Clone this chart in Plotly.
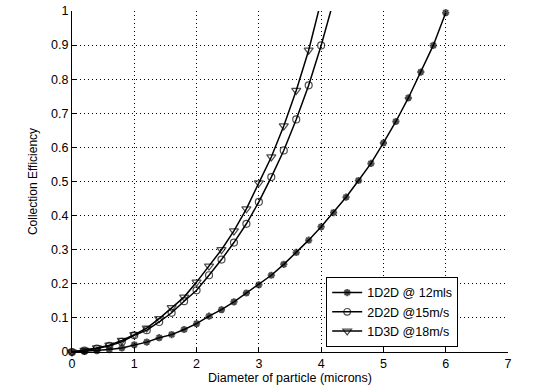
import plotly.graph_objects as go

x_12 = [round(0.2 * i, 1) for i in range(31)]
y_12 = [0.0, 0.002, 0.004, 0.007, 0.012, 0.021, 0.029, 0.042, 0.051, 0.066,
        0.083, 0.105, 0.124, 0.147, 0.173, 0.197, 0.225, 0.257, 0.292, 0.328,
        0.367, 0.409, 0.454, 0.503, 0.553, 0.613, 0.676, 0.745, 0.821, 0.899, 0.995]

x_15 = [round(0.2 * i, 1) for i in range(22)]
y_15 = [0.0, 0.004, 0.010, 0.018, 0.030, 0.049, 0.064, 0.088, 0.115, 0.149,
        0.181, 0.225, 0.271, 0.321, 0.376, 0.440, 0.513, 0.591, 0.682, 0.782,
        0.899, 1.03]

x_18 = [round(0.2 * i, 1) for i in range(21)]
y_18 = [0.0, 0.005, 0.012, 0.020, 0.034, 0.051, 0.070, 0.098, 0.130, 0.161,
        0.205, 0.252, 0.300, 0.355, 0.420, 0.496, 0.572, 0.663, 0.767, 0.885, 1.03]

names = ["1D2D @ 12mls", "2D2D @15m/s", "1D3D @18m/s"]
x_ticks = [0, 1, 2, 3, 4, 5, 6, 7]
y_ticks = [0, 0.1, 0.2, 0.3, 0.4, 0.5, 0.6, 0.7, 0.8, 0.9, 1]
y_tick_text = ["0", "0.1", "0.2", "0.3", "0.4", "0.5", "0.6", "0.7", "0.8", "0.9", "1"]

FONT = "Liberation Sans, Arial, sans-serif"

def sizes(ys, s):
    return [s if v <= 1.0 else 0 for v in ys]

fig = go.Figure()
fig.add_trace(go.Scatter(
    x=x_12, y=y_12, name=names[0], mode="lines+markers",
    line=dict(color="black", width=1.5),
    marker=dict(symbol="asterisk-open", size=sizes(y_12, 6), color="black",
                line=dict(color="black", width=2)),
    cliponaxis=False))
fig.add_trace(go.Scatter(
    x=x_15, y=y_15, name=names[1], mode="lines+markers",
    line=dict(color="black", width=1.5),
    marker=dict(symbol="circle-open", size=sizes(y_15, 7), color="black",
                line=dict(color="black", width=1.2)),
    cliponaxis=False))
fig.add_trace(go.Scatter(
    x=x_18, y=y_18, name=names[2], mode="lines+markers",
    line=dict(color="black", width=1.5),
    marker=dict(symbol="triangle-down-open", size=sizes(y_18, 8), color="black",
                line=dict(color="black", width=1.2)),
    cliponaxis=False))

axis_common = dict(
    showline=True, linecolor="black", linewidth=1,
    showgrid=True, gridcolor="black", gridwidth=1, griddash="1px,3px",
    zeroline=False, ticks="inside", ticklen=5, tickcolor="black",
    tickfont=dict(family=FONT, size=12.5, color="black"),
    mirror=False, automargin=False,
)

fig.update_layout(
    width=560, height=389,
    margin=dict(l=72, r=52, t=11, b=37),
    paper_bgcolor="white", plot_bgcolor="white",
    font=dict(family=FONT, size=12.5, color="black"),
    showlegend=True,
    legend=dict(
        x=0.583, y=0.22, xanchor="left", yanchor="top",
        bgcolor="white", bordercolor="black", borderwidth=1,
        font=dict(family=FONT, size=12.5, color="black"),
        tracegroupgap=0,
    ),
    xaxis=dict(range=[0, 7], tickvals=x_ticks,
               title=dict(text="Diameter of particle (microns)", standoff=0,
                          font=dict(family=FONT, size=12.5)),
               **axis_common),
    yaxis=dict(range=[0, 1], tickvals=y_ticks, ticktext=y_tick_text,
               title=dict(text="Collection Efficiency", standoff=10,
                          font=dict(family=FONT, size=12)),
               **axis_common),
)

fig.write_html("out.html", config={"displayModeBar": False},
               post_script="document.body.style.margin='0';document.body.style.overflow='hidden';")
